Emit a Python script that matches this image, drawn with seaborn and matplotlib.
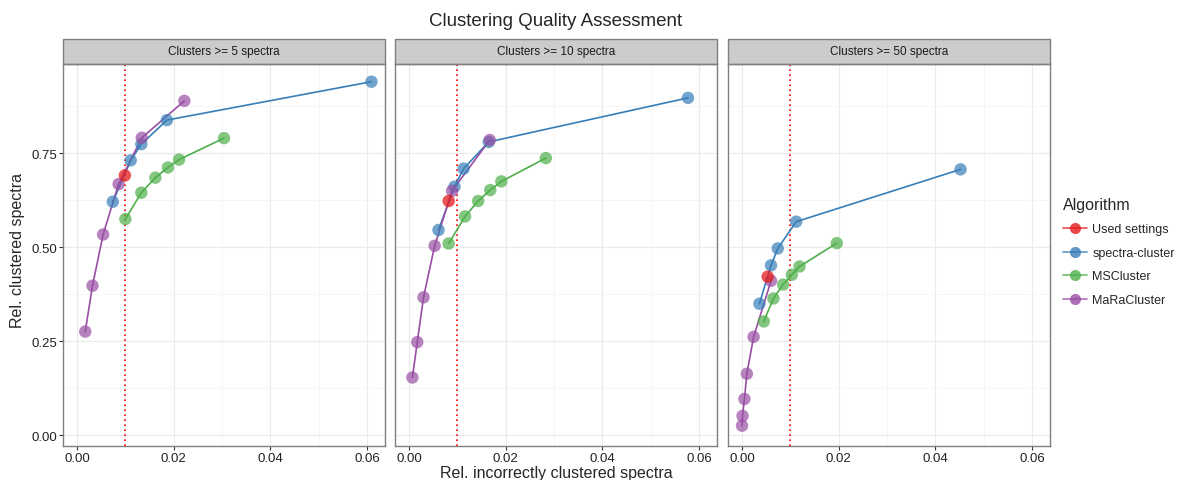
import pandas as pd
import numpy as np
import matplotlib
matplotlib.use("Agg")
import matplotlib.pyplot as plt
import seaborn as sns
from matplotlib.patches import Rectangle
from matplotlib.lines import Line2D

# values
panels = ["Clusters >= 5 spectra", "Clusters >= 10 spectra", "Clusters >= 50 spectra"]
algorithms = ["Used settings", "spectra-cluster", "MSCluster", "MaRaCluster"]
colors = ["#E41A1C", "#377EB8", "#4DAF4A", "#984EA3"]

# panel 1
p1_spectra_x = [0.0609, 0.0186, 0.0133, 0.0111, 0.0074]
p1_spectra_y = [0.940, 0.838, 0.774, 0.731, 0.621]
p1_ms_x = [0.0100, 0.0133, 0.0162, 0.0188, 0.0211, 0.0304]
p1_ms_y = [0.575, 0.645, 0.685, 0.712, 0.733, 0.790]
p1_mara_x = [0.0222, 0.0134, 0.0086, 0.0054, 0.0032, 0.0017]
p1_mara_y = [0.889, 0.791, 0.668, 0.534, 0.398, 0.276]
p1_used_x = [0.0099]
p1_used_y = [0.691]

# panel 2
p2_spectra_x = [0.0577, 0.0165, 0.0113, 0.0094, 0.0061]
p2_spectra_y = [0.897, 0.780, 0.709, 0.661, 0.546]
p2_ms_x = [0.0082, 0.0116, 0.0143, 0.0168, 0.0191, 0.0283]
p2_ms_y = [0.510, 0.582, 0.623, 0.652, 0.675, 0.737]
p2_mara_x = [0.0167, 0.0089, 0.0053, 0.0030, 0.0017, 0.0007]
p2_mara_y = [0.785, 0.650, 0.504, 0.367, 0.248, 0.154]
p2_used_x = [0.0082]
p2_used_y = [0.623]

# panel 3
p3_spectra_x = [0.0452, 0.0112, 0.0074, 0.0060, 0.0036]
p3_spectra_y = [0.707, 0.568, 0.497, 0.452, 0.350]
p3_ms_x = [0.0045, 0.0065, 0.0085, 0.0103, 0.0119, 0.0196]
p3_ms_y = [0.303, 0.364, 0.401, 0.427, 0.449, 0.511]
p3_mara_x = [0.0060, 0.0024, 0.0010, 0.0005, 0.0001, 0.0000]
p3_mara_y = [0.411, 0.262, 0.164, 0.097, 0.052, 0.026]
p3_used_x = [0.0053]
p3_used_y = [0.422]

cutoff = 0.01

rows = []
data_sets = [
    (p1_used_x, p1_used_y, p1_spectra_x, p1_spectra_y, p1_ms_x, p1_ms_y, p1_mara_x, p1_mara_y),
    (p2_used_x, p2_used_y, p2_spectra_x, p2_spectra_y, p2_ms_x, p2_ms_y, p2_mara_x, p2_mara_y),
    (p3_used_x, p3_used_y, p3_spectra_x, p3_spectra_y, p3_ms_x, p3_ms_y, p3_mara_x, p3_mara_y),
]
for panel, ds in zip(panels, data_sets):
    for k, alg in enumerate(algorithms):
        xs, ys = ds[2 * k], ds[2 * k + 1]
        for i, (x, y) in enumerate(zip(xs, ys)):
            rows.append(dict(panel=panel, algorithm=alg, x=x, y=y, order=i))
df = pd.DataFrame(rows)

sns.set_style("whitegrid")
plt.rcParams["font.family"] = ["Liberation Sans", "DejaVu Sans"]

fig = plt.figure(figsize=(11.79, 4.81), dpi=100)
W, H = 1179, 481
lefts = [63, 395, 728]
pw = 322
top, bottom = 65, 447
palette = dict(zip(algorithms, colors))

for j, panel in enumerate(panels):
    ax = fig.add_axes([lefts[j] / W, 1 - bottom / H, pw / W, (bottom - top) / H])
    sub = df[df.panel == panel]
    # lines in data order (used settings is a single point, no line)
    for alg in algorithms[1:]:
        s = sub[sub.algorithm == alg].sort_values("order")
        sns.lineplot(data=s, x="x", y="y", sort=False, color=palette[alg],
                     lw=1.2, ax=ax, estimator=None, zorder=2)
    sns.scatterplot(data=sub[sub.algorithm != "Used settings"], x="x", y="y",
                    hue="algorithm", palette=palette, s=80, alpha=0.7,
                    edgecolor="none", ax=ax, legend=False, zorder=3)
    sns.scatterplot(data=sub[sub.algorithm == "Used settings"], x="x", y="y",
                    color=palette["Used settings"], s=80, alpha=0.75,
                    edgecolor="none", ax=ax, legend=False, zorder=4)
    ax.axvline(cutoff, color="#FF0000", ls=(0, (1, 2)), lw=1.2, zorder=1)

    ax.set_xlim(-0.0029, 0.0637)
    ax.set_ylim(-0.028, 0.987)
    ax.set_xticks([0, 0.02, 0.04, 0.06])
    ax.set_xticks([0.01, 0.03, 0.05], minor=True)
    ax.set_yticks([0, 0.25, 0.5, 0.75])
    ax.set_yticks([0.125, 0.375, 0.625, 0.875], minor=True)
    ax.grid(which="major", color="#EBEBEB", lw=0.9)
    ax.grid(which="minor", color="#F5F5F5", lw=0.6)
    ax.set_axisbelow(True)
    ax.set_xlabel("")
    ax.set_ylabel("")
    ax.set_xticklabels(["0.00", "0.02", "0.04", "0.06"], fontsize=9.5, color="#222222")
    if j == 0:
        ax.set_yticklabels(["0.00", "0.25", "0.50", "0.75"], fontsize=9.5, color="#222222")
    else:
        ax.set_yticklabels([])
    ax.tick_params(axis="both", which="major", length=3, width=0.8, color="#333333",
                   left=(j == 0), bottom=True, pad=1.5)
    ax.tick_params(which="minor", length=0)
    for sp in ax.spines.values():
        sp.set_color("#7F7F7F")
        sp.set_linewidth(1.0)
    # facet strip
    ax.add_patch(Rectangle((0, 1), 1, 25 / (bottom - top), transform=ax.transAxes,
                           facecolor="#CCCCCC", edgecolor="#7F7F7F", lw=1.0,
                           clip_on=False))
    ax.text(0.5, 1 + 12.5 / (bottom - top), panel, transform=ax.transAxes,
            ha="center", va="center", fontsize=8.5, color="#1A1A1A")

fig.text(556 / W, 1 - 22 / H, "Clustering Quality Assessment", ha="center",
         va="center", fontsize=13.5)
fig.text(556 / W, 1 - 474 / H, "Rel. incorrectly clustered spectra", ha="center",
         va="center", fontsize=11.5)
fig.text(18 / W, 1 - 250 / H, "Rel. clustered spectra", ha="center", va="center",
         rotation=90, fontsize=11.5)

handles = [Line2D([0], [0], color=c, lw=1.2, marker="o", markersize=8,
                  markerfacecolor=c, markeredgecolor="none", alpha=0.8)
           for c in colors]
fig.legend(handles, algorithms, title="Algorithm", loc="upper left",
           bbox_to_anchor=(1053 / W, 1 - 188 / H), frameon=False, fontsize=9,
           title_fontsize=11.5, handlelength=1.9, labelspacing=0.92,
           alignment="left", handletextpad=0.45, borderpad=0.3)

fig.savefig("out.png", dpi=100)
